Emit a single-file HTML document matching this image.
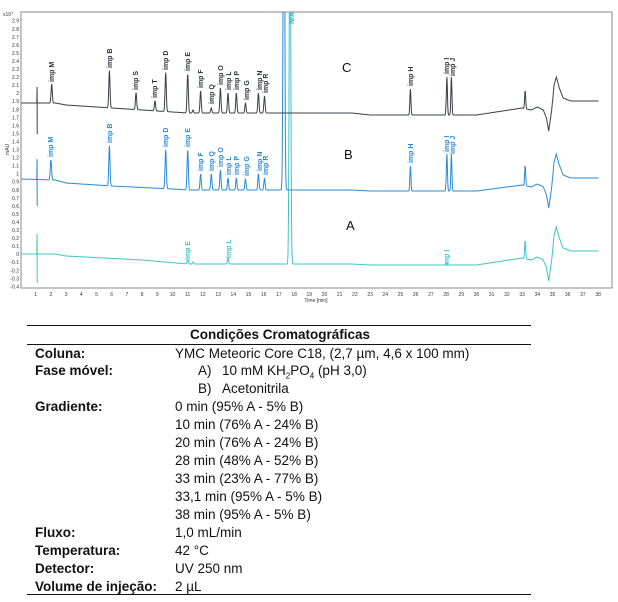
<!DOCTYPE html>
<html><head><meta charset="utf-8"><style>
body{margin:0;width:618px;height:602px;background:#fff;position:relative;overflow:hidden;font-family:"Liberation Sans",sans-serif}
svg{position:absolute;left:0;top:0}
.t{position:absolute;font-size:13.5px;color:#111;white-space:nowrap;line-height:16px}
.b{font-weight:bold}
.hl{position:absolute;left:27px;width:504px;height:1.3px;background:#111}
.lab{font:bold 7px "Liberation Sans",sans-serif}
.tk{font:5px "Liberation Sans",sans-serif;fill:#333}
</style></head><body>
<svg width="618" height="310" viewBox="0 0 618 310">
<rect x="21" y="12" width="591" height="276" fill="none" stroke="#8a8a8a" stroke-width="1"/>
<g id="yt" class="tk" text-anchor="end"></g>
<g id="xt" class="tk" text-anchor="middle"></g>
<text x="3" y="16" class="tk">x10<tspan font-size="3.5" dy="-2">1</tspan></text>
<text x="9" y="155" class="tk" transform="rotate(-90 9 155)">mAU</text>
<text x="316" y="302" class="tk" text-anchor="middle">Time [min]</text>
<clipPath id="cp"><rect x="21" y="12" width="591" height="276"/></clipPath>
<g clip-path="url(#cp)" fill="none" stroke-width="1">
<path id="pA" stroke="#3cc4cc"/>
<path id="pB" stroke="#2a8ad8"/>
<path id="pC" stroke="#3a3f47"/>
</g>
<text x="342" y="72" font-size="13" font-family="Liberation Sans" fill="#111">C</text>
<text x="344" y="159" font-size="13" font-family="Liberation Sans" fill="#111">B</text>
<text x="346" y="230" font-size="13" font-family="Liberation Sans" fill="#111">A</text>
<text class="lab" fill="#2fb5c4" transform="translate(294,24) rotate(-90)">N/A</text>
<g class="lab" fill="#2e333b">
<text transform="translate(54,82) rotate(-90)">imp M</text>
<text transform="translate(112,68) rotate(-90)">imp B</text>
<text transform="translate(138,90) rotate(-90)">imp S</text>
<text transform="translate(157,98) rotate(-90)">imp T</text>
<text transform="translate(168,70) rotate(-90)">imp D</text>
<text transform="translate(190,71) rotate(-90)">imp E</text>
<text transform="translate(203,88) rotate(-90)">imp F</text>
<text transform="translate(214,104) rotate(-90)">imp Q</text>
<text transform="translate(223,85) rotate(-90)">imp O</text>
<text transform="translate(231,90) rotate(-90)">imp L</text>
<text transform="translate(239,90) rotate(-90)">imp P</text>
<text transform="translate(249,100) rotate(-90)">imp G</text>
<text transform="translate(262,90) rotate(-90)">imp N</text>
<text transform="translate(268,93) rotate(-90)">imp R</text>
<text transform="translate(413,86) rotate(-90)">imp H</text>
<text transform="translate(449,74) rotate(-90)">imp I</text>
<text transform="translate(455,76) rotate(-90)">imp J</text>
</g>
<g class="lab" fill="#2a8ad8">
<text transform="translate(53,157) rotate(-90)">imp M</text>
<text transform="translate(112,143) rotate(-90)">imp B</text>
<text transform="translate(168,147) rotate(-90)">imp D</text>
<text transform="translate(190,147) rotate(-90)">imp E</text>
<text transform="translate(203,171) rotate(-90)">imp F</text>
<text transform="translate(214,171) rotate(-90)">imp Q</text>
<text transform="translate(223,167) rotate(-90)">imp O</text>
<text transform="translate(231,175) rotate(-90)">imp L</text>
<text transform="translate(239,175) rotate(-90)">imp P</text>
<text transform="translate(249,176) rotate(-90)">imp G</text>
<text transform="translate(262,171) rotate(-90)">imp N</text>
<text transform="translate(268,175) rotate(-90)">imp R</text>
<text transform="translate(413,163) rotate(-90)">imp H</text>
<text transform="translate(449,152) rotate(-90)">imp I</text>
<text transform="translate(455,154) rotate(-90)">imp J</text>
</g>
<g class="lab" fill="#3cc4cc">
<text transform="translate(190,260) rotate(-90)">imp E</text>
<text transform="translate(231,258) rotate(-90)">imp L</text>
<text transform="translate(449,266) rotate(-90)">imp I</text>
</g>
</svg>
<div class="hl" style="top:325px"></div>
<div class="t b" style="left:0;width:560px;text-align:center;top:327px">Condições Cromatográficas</div>
<div class="hl" style="top:344px"></div>
<div class="t b" style="left:35px;top:346px">Coluna:</div><div class="t" style="left:175px;top:346px">YMC Meteoric Core C18, (2,7 µm, 4,6 x 100 mm)</div>
<div class="t b" style="left:35px;top:363px">Fase móvel:</div><div class="t" style="left:198px;top:363px">A)</div><div class="t" style="left:222px;top:363px">10 mM KH<sub style="font-size:8px">2</sub>PO<sub style="font-size:8px">4</sub> (pH 3,0)</div>
<div class="t" style="left:198px;top:381px">B)</div><div class="t" style="left:222px;top:381px">Acetonitrila</div>
<div class="t b" style="left:35px;top:399px">Gradiente:</div>
<div class="t" style="left:175px;top:399px">0 min (95% A - 5% B)</div>
<div class="t" style="left:175px;top:417px">10 min (76% A - 24% B)</div>
<div class="t" style="left:175px;top:435px">20 min (76% A - 24% B)</div>
<div class="t" style="left:175px;top:453px">28 min (48% A - 52% B)</div>
<div class="t" style="left:175px;top:471px">33 min (23% A - 77% B)</div>
<div class="t" style="left:175px;top:489px">33,1 min (95% A - 5% B)</div>
<div class="t" style="left:175px;top:507px">38 min (95% A - 5% B)</div>
<div class="t b" style="left:35px;top:525px">Fluxo:</div><div class="t" style="left:175px;top:525px">1,0 mL/min</div>
<div class="t b" style="left:35px;top:543px">Temperatura:</div><div class="t" style="left:175px;top:543px">42 °C</div>
<div class="t b" style="left:35px;top:561px">Detector:</div><div class="t" style="left:175px;top:561px">UV 250 nm</div>
<div class="t b" style="left:35px;top:579px">Volume de injeção:</div><div class="t" style="left:175px;top:579px">2 µL</div>
<div class="hl" style="top:594px"></div>
<script>
var NS="http://www.w3.org/2000/svg";
function X(t){return 35.7+(t-1)*15.2}
var yt=document.getElementById('yt');
for(var i=0;i<=33;i++){var v=2.9-i*0.1;var y=21+i*8.05;var e=document.createElementNS(NS,'text');e.setAttribute('x',19);e.setAttribute('y',y+1.7);e.textContent=(Math.abs(v)<1e-9?'0':(Math.round(v*10)/10).toString());yt.appendChild(e);}
var xt=document.getElementById('xt');
for(var k=1;k<=38;k++){var e=document.createElementNS(NS,'text');e.setAttribute('x',X(k));e.setAttribute('y',296);e.textContent=k;xt.appendChild(e);}
function interp(pts,t){for(var i=0;i<pts.length-1;i++){if(t<=pts[i+1][0]){var a=pts[i],b=pts[i+1];return a[1]+(b[1]-a[1])*(t-a[0])/(b[0]-a[0]);}}return pts[pts.length-1][1];}
function build(id,base,peaks,spike){
 var d='';var first=true;
 for(var t=0.05;t<=38.05;t+=0.02){
  var y=interp(base,t);
  for(var j=0;j<peaks.length;j++){var p=peaks[j];var s=p[2]||0.04;y-=p[1]*Math.exp(-Math.pow((t-p[0])/s,2)/2);}
  if(Math.abs(t-1.09)<0.011){d+='L'+X(1.09).toFixed(1)+','+spike[0]+'L'+X(1.1).toFixed(1)+','+spike[1];}
  d+=(first?'M':'L')+X(t).toFixed(1)+','+y.toFixed(1);first=false;
 }
 document.getElementById(id).setAttribute('d',d);
}
var art=function(o){return [[33,108+o],[33.6,110+o],[34.0,107+o],[34.4,110+o],[34.6,118+o],[34.75,131+o],[34.95,110+o],[35.1,85+o],[35.25,77+o],[35.45,88+o],[35.7,98+o],[36.2,101+o],[38.1,101+o]]};
var baseC=[[0,103],[2.3,103],[3,105],[6,108],[10,112],[11,113],[21.8,113],[23,115],[30,115]].concat(art(0));
var baseB=[[0,179],[2.3,180],[3,183],[6,186],[10,189],[11,190],[21.8,190],[23,191],[30,191]].concat(art(77));
var baseA=[[0,254],[2.3,254],[3,256],[8,260],[11,264],[21.8,264],[23,265],[30,265]].concat(art(150));
build('pC',baseC,[[2.05,19],[5.85,37],[7.6,17],[8.85,10],[9.55,39],[11.0,39],[11.35,3],[11.85,22],[12.55,5],[13.15,25],[13.65,20],[14.2,20],[14.8,10],[15.65,20],[16.05,17],[25.65,26,0.035],[28.05,38,0.035],[28.35,38,0.035],[33.2,18,0.035]],[87,134]);
build('pB',baseB,[[2.0,20],[5.85,40],[9.55,39],[11.0,40],[11.85,16],[12.55,16],[13.15,20],[13.65,12],[14.2,12],[14.8,11],[15.65,16],[16.05,12],[17.33,400,0.05],[25.65,25,0.035],[28.05,37,0.035],[28.35,37,0.035],[33.2,20,0.035]],[159,206]);
build('pA',baseA,[[11.0,4],[11.35,2],[13.65,6],[17.73,400,0.05],[28.05,2],[33.2,18,0.035]],[234,283]);
</script>
</body></html>
